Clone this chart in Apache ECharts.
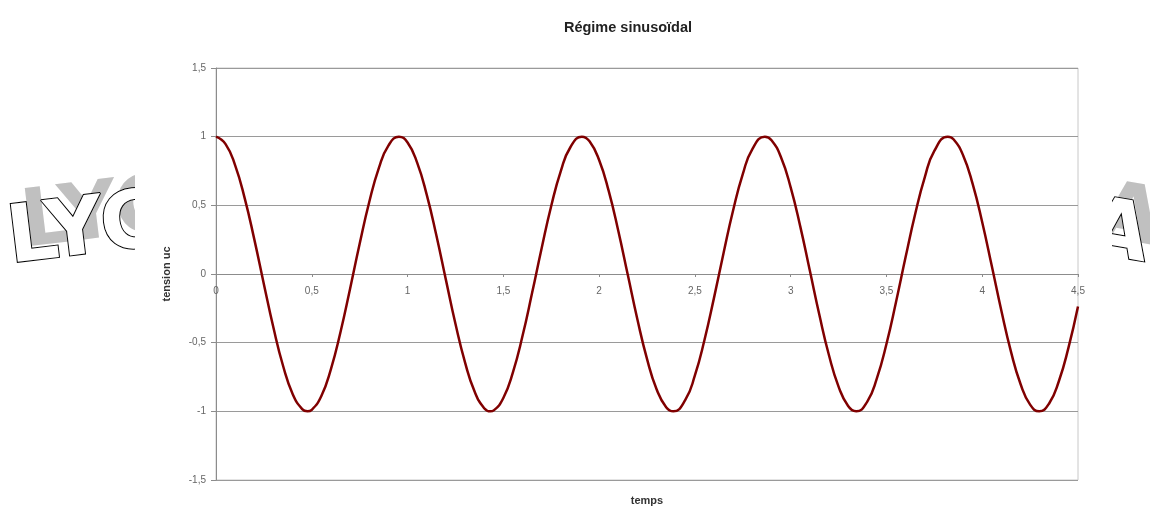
<!DOCTYPE html>
<html><head><meta charset="utf-8">
<script src="https://cdn.jsdelivr.net/npm/echarts@6/dist/echarts.min.js"></script>
<style>html,body{margin:0;padding:0;background:#fff}#c{width:1150px;height:509px}</style>
</head><body><div id="c"></div>
<script>
const chartTitle = 'Régime sinusoïdal';
const xName = 'temps';
const yName = 'tension uc';
const watermarkLeft = 'LYC';
const watermarkRight = 'A';
const tValues = [0,0.05,0.1,0.15,0.2,0.25,0.3,0.35,0.4,0.45,0.4775,0.5,0.55,0.6,0.65,0.7,0.75,0.8,0.85,0.9,0.955,
1,1.05,1.1,1.15,1.2,1.25,1.3,1.35,1.4,1.4325,1.45,1.5,1.55,1.6,1.65,1.7,1.75,1.8,1.85,1.91,1.95,
2,2.05,2.1,2.15,2.2,2.25,2.3,2.35,2.3875,2.45,2.5,2.55,2.6,2.65,2.7,2.75,2.8,2.865,2.9,2.95,
3,3.05,3.1,3.15,3.2,3.25,3.3,3.3425,3.4,3.45,3.5,3.55,3.6,3.65,3.7,3.75,3.82,3.85,3.9,3.95,
4,4.05,4.1,4.15,4.2,4.25,4.2975,4.35,4.4,4.45,4.5];
const ucValues = [1.00,0.946,0.791,0.551,0.252,-0.074,-0.392,-0.668,-0.873,-0.984,-1.00,-0.989,-0.888,-0.692,-0.422,-0.107,0.220,0.524,0.771,0.935,1.00,
0.957,0.811,0.578,0.284,-0.041,-0.362,-0.643,-0.856,-0.977,-1.00,-0.993,-0.903,-0.716,-0.452,-0.139,0.188,0.495,0.749,0.923,1.00,0.966,
0.830,0.605,0.315,-0.008,-0.331,-0.618,-0.839,-0.970,-1.00,-0.917,-0.739,-0.481,-0.172,0.155,0.466,0.727,0.910,1.00,0.974,0.848,
0.631,0.347,0.025,-0.299,-0.592,-0.820,-0.961,-1.00,-0.929,-0.760,-0.510,-0.204,0.123,0.437,0.704,0.896,1.00,0.981,0.865,0.656,
0.377,0.058,-0.268,-0.565,-0.801,-0.951,-1.00,-0.941,-0.781,-0.538,-0.237];

const data = tValues.map((t, i) => [t, ucValues[i]]);
const comma = v => String(v).replace('.', ',');
const wmFont = 'bold 80px "DejaVu Sans"';
const labelFont = {fontFamily: 'Liberation Sans', fontSize: 10, color: '#666'};

const chart = echarts.init(document.getElementById('c'), null, {renderer: 'canvas'});
chart.setOption({
  backgroundColor: '#fff',
  animation: false,
  title: {
    text: chartTitle, left: 623, top: 15, textAlign: 'center',
    textStyle: {fontFamily: 'Liberation Sans', fontSize: 14.5, fontWeight: 'bold', color: '#222'},
    z: 20
  },
  graphic: [
    {type: 'text', x: 8 + 14, y: 242 - 16, rotation: 0.12, z: 0,
     style: {text: watermarkLeft, font: wmFont, fill: '#c0c0c0', align: 'left', verticalAlign: 'middle'}},
    {type: 'text', x: 8, y: 242, rotation: 0.12, z: 1,
     style: {text: watermarkLeft, font: wmFont, fill: '#fff', stroke: '#000', lineWidth: 2, align: 'left', verticalAlign: 'middle'}},
    {type: 'text', x: 1148 + 12, y: 241 - 16, rotation: -0.17, z: 0,
     style: {text: watermarkRight, font: wmFont, fill: '#c0c0c0', align: 'right', verticalAlign: 'middle'}},
    {type: 'text', x: 1148, y: 241, rotation: -0.17, z: 1,
     style: {text: watermarkRight, font: wmFont, fill: '#fff', stroke: '#000', lineWidth: 2, align: 'right', verticalAlign: 'middle'}},
    {type: 'rect', shape: {x: 135, y: 0, width: 977, height: 509}, z: 2,
     style: {fill: '#fff'}}
  ],
  grid: {left: 216, right: 72, top: 68, bottom: 29, containLabel: false, outerBoundsMode: 'none',
         show: true, borderColor: '#c8c8c8', borderWidth: 1, z: 5},
  xAxis: [{
    type: 'value', min: 0, max: 4.5, interval: 0.5, z: 6,
    name: xName, nameLocation: 'middle', nameGap: 15,
    nameTextStyle: {fontFamily: 'Liberation Sans', fontSize: 11, fontWeight: 'bold', color: '#333'},
    axisLine: {onZero: false, show: false},
    axisTick: {show: false},
    axisLabel: {show: false},
    splitLine: {show: false}
  }, {
    type: 'value', min: 0, max: 4.5, interval: 0.5, z: 6, position: 'bottom', offset: -206,
    axisLine: {onZero: false, show: true, lineStyle: {color: '#8c8c8c', width: 1}},
    axisTick: {show: true, length: 3, lineStyle: {color: '#8c8c8c'}},
    axisLabel: Object.assign({formatter: comma, margin: 12}, labelFont),
    splitLine: {show: false}
  }],
  yAxis: {
    type: 'value', min: -1.5, max: 1.5, interval: 0.5, z: 6,
    name: yName, nameLocation: 'middle', nameRotate: 90, nameGap: 44,
    nameTextStyle: {fontFamily: 'Liberation Sans', fontSize: 11, fontWeight: 'bold', color: '#333'},
    axisLine: {show: true, lineStyle: {color: '#8c8c8c', width: 1}},
    axisTick: {show: true, length: 5, lineStyle: {color: '#8c8c8c'}},
    axisLabel: Object.assign({formatter: comma, margin: 10}, labelFont),
    splitLine: {show: true, lineStyle: {color: '#9a9a9a', width: 1}}
  },
  series: [{
    type: 'line', data: data, smooth: true, showSymbol: false, z: 10, xAxisIndex: 0,
    lineStyle: {color: '#800000', width: 2.5}
  }]
});
</script></body></html>
